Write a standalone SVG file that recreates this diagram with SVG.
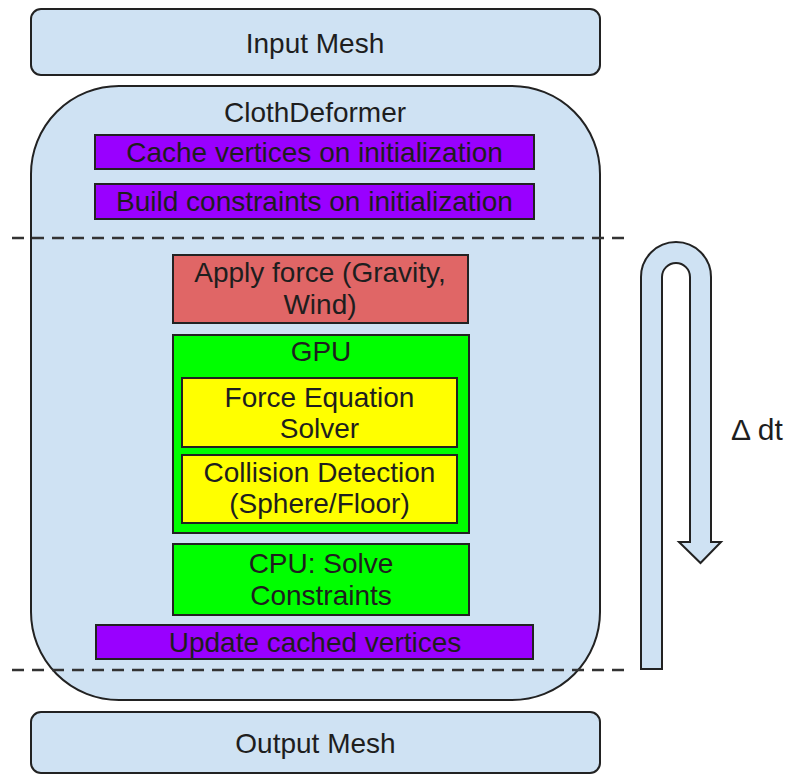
<svg xmlns="http://www.w3.org/2000/svg" width="791" height="774" viewBox="0 0 791 774">
<style>
  .box{stroke:#222;stroke-width:2}
  .blue{fill:#cfe2f3}
  .purple{fill:#9900ff}
  .red{fill:#e06666}
  .green{fill:#00ff00}
  .yellow{fill:#ffff00}
  text{font-family:"Liberation Sans",Arial,sans-serif;font-size:28px;fill:#1e1e1e;text-anchor:middle}
  .dash{stroke:#333;stroke-width:2.5;stroke-dasharray:12 8;fill:none}
</style>
<rect width="791" height="774" fill="#ffffff"/>
<g id="input-mesh">
  <rect class="box blue" x="31" y="9" width="569" height="66" rx="10"/>
  <text x="315" y="53">Input Mesh</text>
</g>
<g id="cloth-deformer">
  <rect class="box blue" x="31" y="86" width="569" height="614" rx="88"/>
  <text x="315" y="122">ClothDeformer</text>
</g>
<g id="cache-vertices">
  <rect class="box purple" x="95" y="135" width="439" height="34"/>
  <text x="314.5" y="162">Cache vertices on initialization</text>
</g>
<g id="build-constraints">
  <rect class="box purple" x="95" y="184" width="439" height="35"/>
  <text x="314.5" y="211">Build constraints on initialization</text>
</g>
<g id="apply-force">
  <rect class="box red" x="173" y="255" width="295" height="68"/>
  <text x="320" y="282">Apply force (Gravity,</text>
  <text x="320" y="314">Wind)</text>
</g>
<g id="gpu">
  <rect class="box green" x="173" y="335" width="296" height="198"/>
  <text x="321" y="361">GPU</text>
</g>
<g id="force-equation">
  <rect class="box yellow" x="182" y="378" width="275" height="69"/>
  <text x="319.5" y="407">Force Equation</text>
  <text x="319.5" y="438">Solver</text>
</g>
<g id="collision-detection">
  <rect class="box yellow" x="182" y="455" width="275" height="68"/>
  <text x="319.5" y="482">Collision Detection</text>
  <text x="319.5" y="513">(Sphere/Floor)</text>
</g>
<g id="cpu-solve">
  <rect class="box green" x="173" y="544" width="296" height="71"/>
  <text x="321" y="573">CPU: Solve</text>
  <text x="321" y="605">Constraints</text>
</g>
<g id="update-cached">
  <rect class="box purple" x="96" y="625" width="437" height="34"/>
  <text x="315" y="652">Update cached vertices</text>
</g>
<g id="output-mesh">
  <rect class="box blue" x="31" y="712" width="569" height="61" rx="10"/>
  <text x="315.5" y="753">Output Mesh</text>
</g>
<g id="connectors">
  <line class="dash" x1="12" y1="238" x2="627" y2="238"/>
  <line class="dash" x1="12" y1="670" x2="627" y2="670"/>
  <path class="box blue" d="M641 669 L641 277 A35 35 0 0 1 711 277 L711 542 L721 542 L700.5 563 L679 542 L690 542 L690 277 A14 14 0 0 0 662 277 L662 669 Z"/>
  <text x="731" y="440" style="font-size:30px;text-anchor:start">Δ dt</text>
</g>
</svg>
